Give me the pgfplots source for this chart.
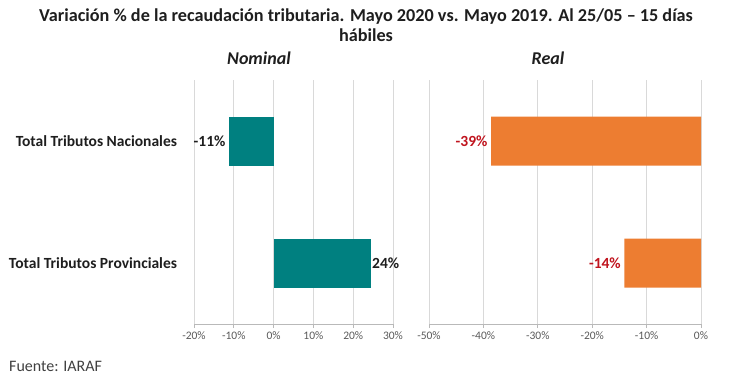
\documentclass[border=0pt]{standalone}
\usepackage{pgfplots}
\pgfplotsset{compat=1.18}
\usepackage{fontspec}
\setmainfont{Carlito}
\definecolor{tealbar}{RGB}{0,128,128}
\definecolor{orngbar}{RGB}{237,125,49}
\definecolor{lblred}{RGB}{192,20,30}
\definecolor{gridc}{RGB}{217,217,217}
\definecolor{tickc}{RGB}{89,89,89}
\definecolor{txt}{RGB}{30,30,30}
\begin{document}
\begin{tikzpicture}
\useasboundingbox (0pt,0pt) rectangle (730pt,381pt);
\pgfplotsset{
  panel/.style={
    scale only axis, anchor=south west,
    height=244pt,
    xbar, bar width=49pt, bar shift=0pt,
    ymin=-0.5, ymax=1.5, y dir=reverse,
    axis x line*=bottom, axis y line*=left,
    y axis line style={draw=none},
    x axis line style={draw=gray!55, line width=0.7pt},
    xmajorgrids, grid style={draw=gridc, line width=0.7pt},
    tick align=outside, major tick length=4pt,
    xtick style={draw=gray!55, line width=0.7pt},
    ytick style={draw=none},
    xticklabel style={font=\fontsize{11.5}{13}\selectfont, text=tickc, yshift=0pt},
    nodes near coords, point meta=explicit symbolic,
    every node near coord/.append style={font=\bfseries\fontsize{15.5}{17}\selectfont},
  }
}
% Left panel: Nominal
\begin{axis}[panel, at={(194pt,57pt)}, width=199pt,
  xmin=-20, xmax=30, xtick={-20,-10,0,10,20,30},
  xticklabels={-20\%,-10\%,0\%,10\%,20\%,30\%},
  ytick={0,1},
  yticklabels={Total Tributos Nacionales, Total Tributos Provinciales},
  yticklabel style={font=\bfseries\fontsize{15.5}{17}\selectfont, text=txt, xshift=-9.5pt},
]
\addplot[fill=tealbar, draw=none, every node near coord/.append style={anchor=east, text=txt}]
  coordinates {(-11.2,0) [-11\%]};
\addplot[fill=tealbar, draw=none, every node near coord/.append style={anchor=west, text=txt, xshift=-2pt}]
  coordinates {(24.4,1) [24\%]};
\end{axis}
% Right panel: Real
\begin{axis}[panel, at={(429pt,57pt)}, width=272pt,
  xmin=-50, xmax=0, xtick={-50,-40,-30,-20,-10,0},
  xticklabels={-50\%,-40\%,-30\%,-20\%,-10\%,0\%},
  ytick=\empty,
]
\addplot[fill=orngbar, draw=none, every node near coord/.append style={anchor=east, text=lblred}]
  coordinates {(-38.6,0) [-39\%] (-14.1,1) [-14\%]};
\end{axis}
% Titles
\node[font=\bfseries\fontsize{18.2}{20}\selectfont, text=txt] at (366pt,364pt)
  {Variación \% de la recaudación tributaria. Mayo 2020 vs. Mayo 2019. Al 25/05 – 15 días};
\node[font=\bfseries\fontsize{18.2}{20}\selectfont, text=txt] at (366pt,346pt) {hábiles};
\node[font=\bfseries\itshape\fontsize{18}{20}\selectfont, text=txt] at (259pt,323pt) {Nominal};
\node[font=\bfseries\itshape\fontsize{18}{20}\selectfont, text=txt] at (548pt,323pt) {Real};
\node[font=\fontsize{16}{18}\selectfont, text=txt!85, anchor=west, inner sep=0pt] at (9pt,15pt) {Fuente: IARAF};
\end{tikzpicture}
\end{document}
